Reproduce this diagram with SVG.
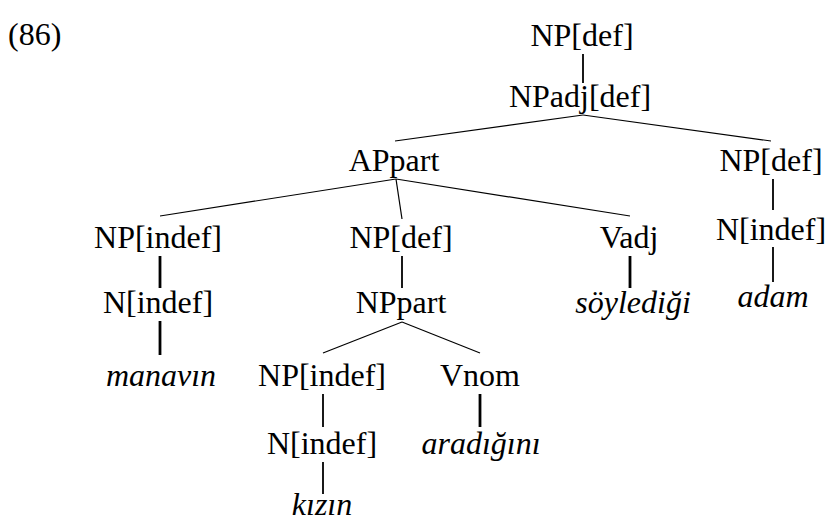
<svg xmlns="http://www.w3.org/2000/svg" width="826" height="527" viewBox="0 0 826 527">
<style>
  text { font-family: "Liberation Serif", "Times New Roman", serif; font-size: 32px; fill: #000; text-anchor: middle; }
  text.it { font-style: italic; }
  text.lab { text-anchor: start; }
  .e { stroke: #000; fill: none; stroke-linecap: butt; }
  .d { stroke-width: 1.2; }
  .v { stroke-width: 1.8; }
  .t { stroke-width: 2.8; }
</style>
<rect width="826" height="527" fill="#fff"/>
<text class="lab" x="8" y="45">(86)</text>
<g id="connectors">
  <line class="e v" x1="583" y1="54" x2="583" y2="83"/>
  <line class="e d" x1="583" y1="115" x2="395" y2="141"/>
  <line class="e d" x1="583" y1="115" x2="771" y2="141"/>
  <line class="e d" x1="396" y1="179" x2="160" y2="216"/>
  <line class="e d" x1="396" y1="179" x2="402" y2="219"/>
  <line class="e d" x1="396" y1="179" x2="630" y2="216"/>
  <line class="e v" x1="773" y1="179" x2="773" y2="210"/>
  <line class="e t" x1="160" y1="256" x2="160" y2="288"/>
  <line class="e v" x1="402" y1="256" x2="402" y2="288"/>
  <line class="e t" x1="630" y1="256" x2="630" y2="288"/>
  <line class="e v" x1="773" y1="247" x2="773" y2="282"/>
  <line class="e t" x1="160" y1="321" x2="160" y2="355"/>
  <line class="e d" x1="402" y1="322" x2="323" y2="353"/>
  <line class="e d" x1="402" y1="322" x2="480" y2="353"/>
  <line class="e v" x1="323" y1="394" x2="323" y2="427"/>
  <line class="e t" x1="480" y1="394" x2="480" y2="427"/>
  <line class="e v" x1="323" y1="462" x2="323" y2="494"/>
</g>
<g id="n-npdef-top"><text x="582" y="46">NP[def]</text></g>
<g id="n-npadj"><text x="580" y="107">NPadj[def]</text></g>
<g id="n-appart"><text x="394" y="171">APpart</text></g>
<g id="n-npdef-right"><text x="771" y="171">NP[def]</text></g>
<g id="n-npindef-1"><text x="158" y="248">NP[indef]</text></g>
<g id="n-npdef-mid"><text x="401" y="248">NP[def]</text></g>
<g id="n-vadj"><text x="629" y="248">Vadj</text></g>
<g id="n-nindef-right"><text x="771" y="240">N[indef]</text></g>
<g id="n-nindef-1"><text x="158" y="313">N[indef]</text></g>
<g id="n-nppart"><text x="401" y="313">NPpart</text></g>
<g id="n-soylediği"><text class="it" x="633" y="313">söylediği</text></g>
<g id="n-adam"><text class="it" x="773" y="307">adam</text></g>
<g id="n-manavin"><text class="it" x="161" y="386">manavın</text></g>
<g id="n-npindef-2"><text x="322" y="386">NP[indef]</text></g>
<g id="n-vnom"><text x="480" y="386">Vnom</text></g>
<g id="n-nindef-2"><text x="322" y="454">N[indef]</text></g>
<g id="n-aradigini"><text class="it" x="481" y="454">aradığını</text></g>
<g id="n-kizin"><text class="it" x="322" y="515">kızın</text></g>
</svg>
